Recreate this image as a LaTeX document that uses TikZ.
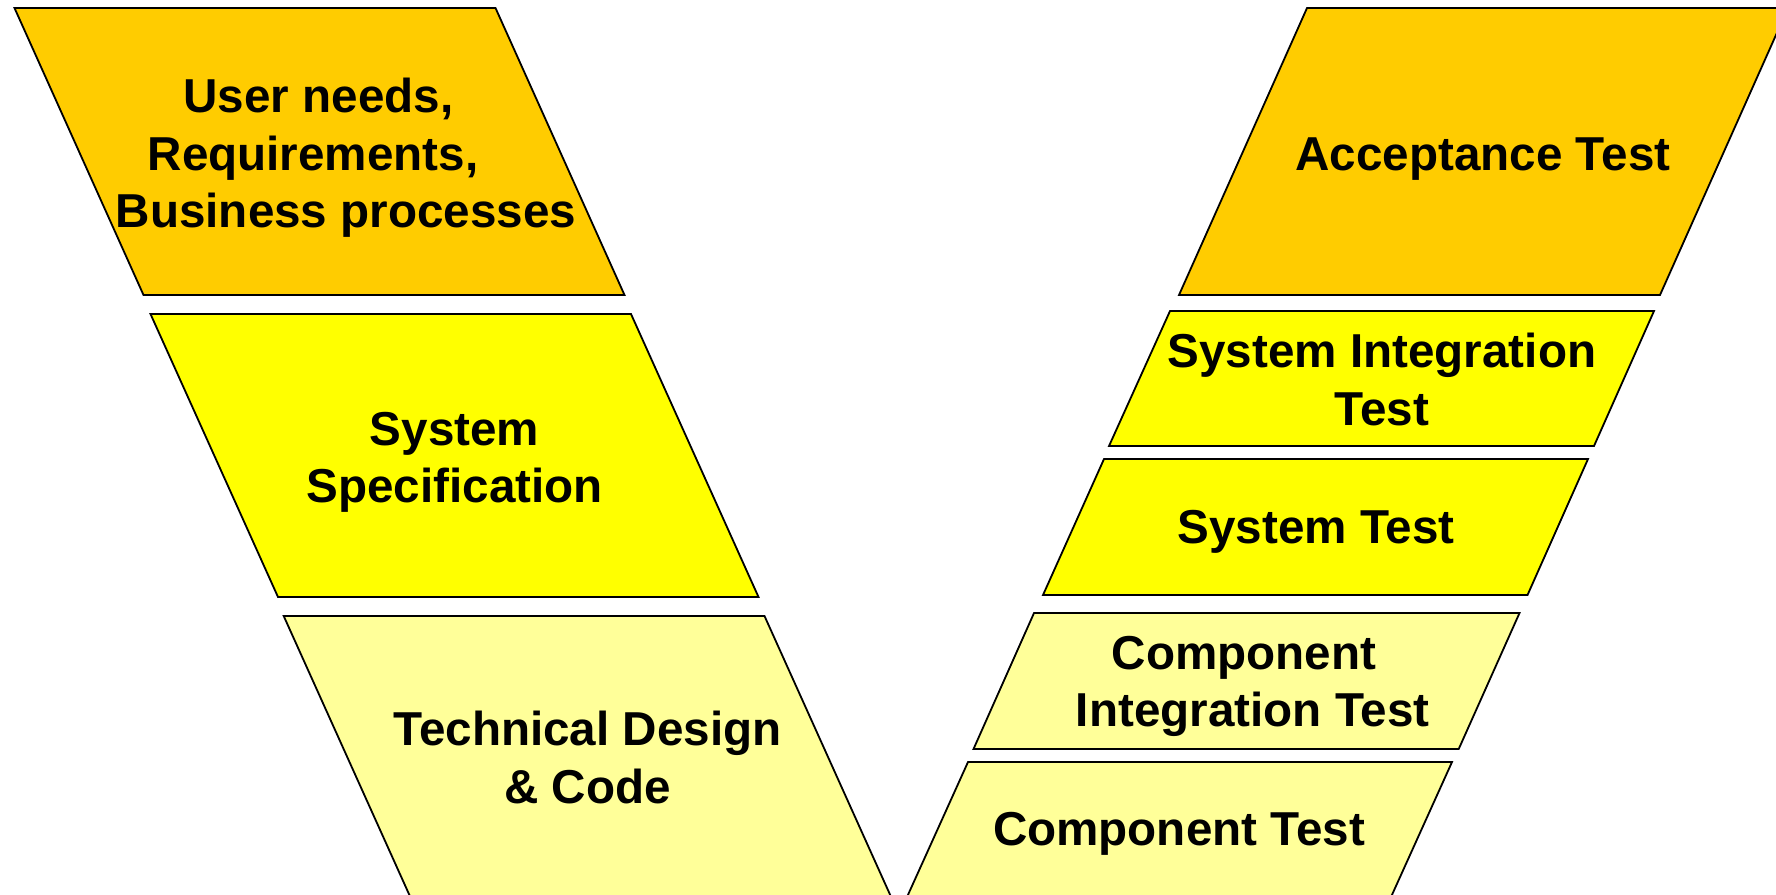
\documentclass[tikz,border=0pt]{standalone}
\usepackage{fontspec}
\setmainfont{Liberation Sans}
\definecolor{vorange}{HTML}{FFCC00}
\definecolor{vyellow}{HTML}{FFFF00}
\definecolor{vpale}{HTML}{FFFF99}

\begin{document}
\begin{tikzpicture}[x=0.5pt, y=-0.5pt,
  stage/.style={draw=black, line width=0.9pt},
  stagetext/.style={anchor=base, align=center, inner sep=0pt,
    font=\fontsize{23.8}{28.85}\selectfont\bfseries}]
\clip (0,0) rectangle (1776,894);
% Left arm of the V
\filldraw[stage, fill=vorange] (14.5,8) -- (495.5,8) -- (624.5,295) -- (143.5,295) -- cycle;
\filldraw[stage, fill=vyellow] (150.5,314) -- (631,314) -- (758.5,597) -- (278,597) -- cycle;
\filldraw[stage, fill=vpale] (283.7,616) -- (764.5,616) -- (892,899) -- (411.2,899) -- cycle;
% Right arm of the V
\filldraw[stage, fill=vorange] (1307,8) -- (1788,8) -- (1660,295) -- (1179,295) -- cycle;
\filldraw[stage, fill=vyellow] (1170,311) -- (1654,311) -- (1594,446) -- (1109,446) -- cycle;
\filldraw[stage, fill=vyellow] (1104,459) -- (1588,459) -- (1527.5,595) -- (1043,595) -- cycle;
\filldraw[stage, fill=vpale] (1034,613) -- (1519.5,613) -- (1458.7,749) -- (973.5,749) -- cycle;
\filldraw[stage, fill=vpale] (968,762) -- (1452,762) -- (1391,897) -- (907,897) -- cycle;
% Stage texts (base = last line)
\node[stagetext] (needs) at (346,227.7) {User needs,\rule{27.5pt}{0pt}\\Requirements,\rule{33pt}{0pt}\\Business processes};
\node[stagetext] (sysspec) at (454.6,502.7) {System\\Specification};
\node[stagetext] (design) at (587.5,803.3) {Technical Design\\\& Code};
\node[stagetext] (accept) at (1483,170) {Acceptance Test};
\node[stagetext] (sysint) at (1382,425) {System Integration\\Test};
\node[stagetext] (systest) at (1316,543.3) {System Test};
\node[stagetext] (compint) at (1252.6,726.7) {Component\rule{8.5pt}{0pt}\\Integration Test};
\node[stagetext] (comptest) at (1179,845) {Component Test};
\end{tikzpicture}
\end{document}
